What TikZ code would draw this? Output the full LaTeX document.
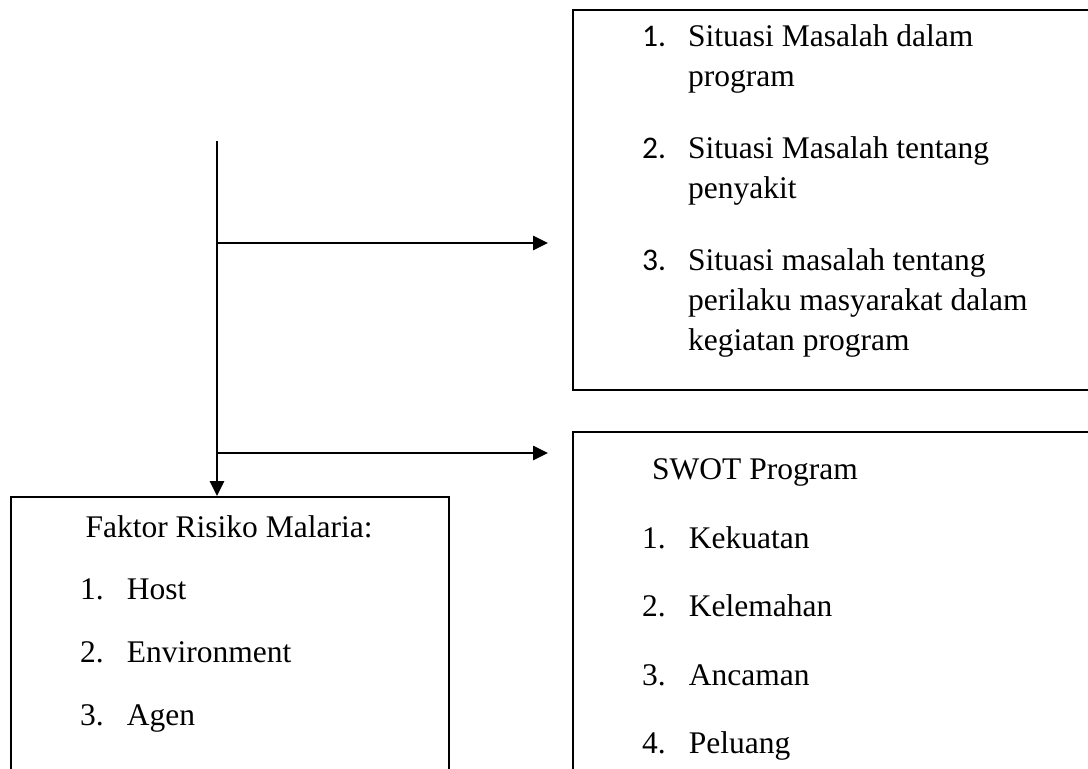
\documentclass[tikz,border=0pt]{standalone}
\usepackage{fontspec}
\setmainfont{Liberation Serif}
\newfontfamily\nomor{Carlito}
\usepackage{tikz}
\usetikzlibrary{arrows.meta, calc}

\begin{document}
\begin{tikzpicture}[x=1pt, y=-1pt, >={Triangle[length=15pt, width=14pt]},
  kotak/.style={draw, line width=2.2pt, rectangle, anchor=north west, inner sep=0pt},
  garis/.style={line width=2.6pt},
  teks/.style={anchor=base west, inner sep=0pt, font=\fontsize{31.5}{36}\selectfont}]
  \path[use as bounding box, clip] (0,0) rectangle (1088,769);
  % kotak
  \node[kotak, minimum width=540pt, minimum height=380pt] (masalah) at (572,9) {};
  \node[kotak, minimum width=438pt, minimum height=320pt] (faktor) at (10,496) {};
  \node[kotak, minimum width=540pt, minimum height=380pt] (swot) at (572,431) {};
  % situasi masalah
  \node[teks] (m1n) at (642,46) {\nomor 1.};
  \node[teks] (m1a) at (688,46) {Situasi Masalah dalam};
  \node[teks] (m1b) at (688,86) {program};
  \node[teks] (m2n) at (642,158) {\nomor 2.};
  \node[teks] (m2a) at (688,158) {Situasi Masalah tentang};
  \node[teks] (m2b) at (688,198) {penyakit};
  \node[teks] (m3n) at (642,270) {\nomor 3.};
  \node[teks] (m3a) at (688,270) {Situasi masalah tentang};
  \node[teks] (m3b) at (688,310) {perilaku masyarakat dalam};
  \node[teks] (m3c) at (688,350) {kegiatan program};
  % faktor risiko
  \node[teks, anchor=base] (fjudul) at (229,537) {Faktor Risiko Malaria:};
  \node[teks] (f1) at (80,599) {1.\hspace{23pt}Host};
  \node[teks] (f2) at (80,662) {2.\hspace{23pt}Environment};
  \node[teks] (f3) at (80,725) {3.\hspace{23pt}Agen};
  % swot
  \node[teks] (sjudul) at (652,479) {SWOT Program};
  \node[teks] (s1) at (642,548) {1.\hspace{23pt}Kekuatan};
  \node[teks] (s2) at (642,616) {2.\hspace{23pt}Kelemahan};
  \node[teks] (s3) at (642,685) {3.\hspace{23pt}Ancaman};
  \node[teks] (s4) at (642,753) {4.\hspace{23pt}Peluang};
  % panah
  \coordinate (atas) at (217,141);
  \coordinate (cabang1) at (217,243);
  \coordinate (cabang2) at (217,453);
  \draw[garis, ->] (atas) -- (atas |- faktor.north);
  \draw[garis, ->, shorten >=24pt] (cabang1) -- (cabang1 -| masalah.west);
  \draw[garis, ->, shorten >=24pt] (cabang2) -- (cabang2 -| swot.west);
\end{tikzpicture}
\end{document}
